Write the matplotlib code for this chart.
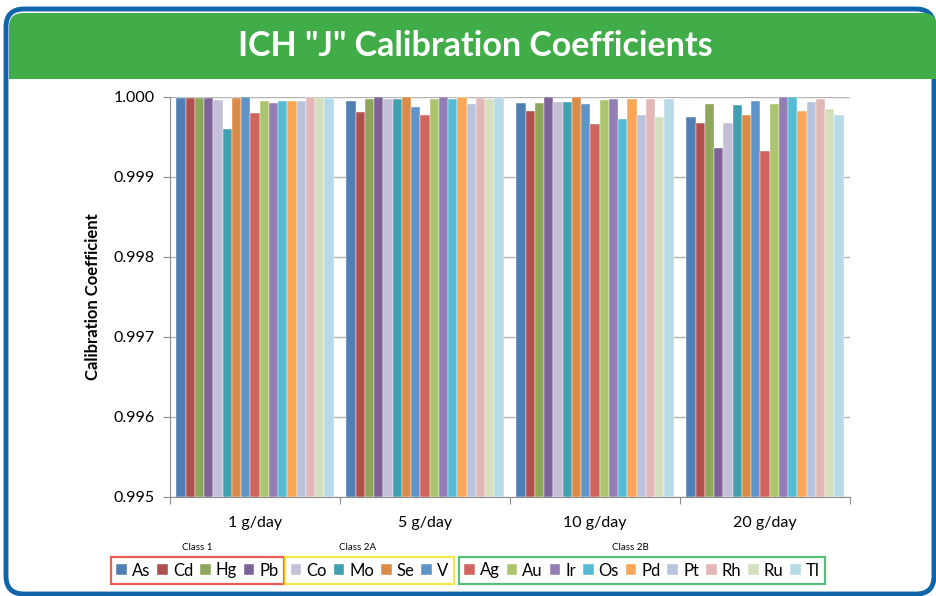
import matplotlib
matplotlib.use("Agg")
import matplotlib.pyplot as plt
import numpy as np
from matplotlib.patches import FancyBboxPatch, Rectangle
from matplotlib.transforms import IdentityTransform

plt.rcParams['font.family'] = ['Lato', 'DejaVu Sans']

groups = ["1 g/day", "5 g/day", "10 g/day", "20 g/day"]
elements = ["As", "Cd", "Hg", "Pb", "Co", "Mo", "Se", "V",
            "Ag", "Au", "Ir", "Os", "Pd", "Pt", "Rh", "Ru", "Tl"]
As = [0.99999, 0.99995, 0.99993, 0.99975]
Cd = [0.99999, 0.99981, 0.99982, 0.99968]
Hg = [0.99999, 0.99998, 0.99993, 0.99991]
Pb = [0.99999, 1.00000, 1.00000, 0.99936]
Co = [0.99996, 0.99998, 0.99994, 0.99968]
Mo = [0.99960, 0.99998, 0.99994, 0.99990]
Se = [0.99999, 1.00000, 1.00000, 0.99977]
V = [1.00000, 0.99988, 0.99991, 0.99995]
Ag = [0.99980, 0.99977, 0.99966, 0.99933]
Au = [0.99995, 0.99998, 0.99996, 0.99991]
Ir = [0.99993, 1.00000, 0.99997, 1.00000]
Os = [0.99995, 0.99998, 0.99972, 1.00000]
Pd = [0.99995, 1.00000, 0.99998, 0.99982]
Pt = [0.99995, 0.99991, 0.99977, 0.99994]
Rh = [1.00000, 0.99999, 0.99997, 0.99998]
Ru = [0.99999, 0.99997, 0.99975, 0.99985]
Tl = [0.99999, 0.99999, 0.99998, 0.99977]
series = [As, Cd, Hg, Pb, Co, Mo, Se, V, Ag, Au, Ir, Os, Pd, Pt, Rh, Ru, Tl]
colors = ["#4F7FB3", "#B0504C", "#8EA65A", "#7E6398", "#C5BED7", "#3FA0B2",
          "#DA8B47", "#5F94CA", "#D0645F", "#AAC56D", "#947CB4", "#55BAD3",
          "#F9A657", "#B8C4DF", "#E2B8B7", "#D4DFBB", "#B6DAE6"]
class_names = ["Class 1", "Class 2A", "Class 2B"]
class_sizes = [4, 4, 9]
class_colors = ["#E8322B", "#F2E41C", "#2BAE5A"]

W, H = 937, 596
fig = plt.figure(figsize=(W / 100, H / 100), dpi=100)
fig.patch.set_facecolor("white")

border = FancyBboxPatch((6, H - 594), 928, 585,
                        boxstyle="round,pad=0,rounding_size=18",
                        facecolor="white", edgecolor="#1064A8", linewidth=3.5,
                        transform=IdentityTransform(), zorder=0)
fig.patches.append(border)
header = FancyBboxPatch((9, H - 79), 928, 66,
                        boxstyle="round,pad=0,rounding_size=14",
                        facecolor="#41AD49", edgecolor="none",
                        transform=IdentityTransform(), zorder=1)
fig.patches.append(header)
fig.patches.append(Rectangle((9, H - 79), 928, 30, facecolor="#41AD49",
                             edgecolor="none", transform=IdentityTransform(), zorder=1))
fig.text(475 / W, 1 - 46 / H, 'ICH "J" Calibration Coefficients', color="white",
         fontsize=24.5, fontweight="bold", ha="center", va="center", zorder=3)

ax = fig.add_axes([170 / W, 1 - 497 / H, 680 / W, 400 / H])
ax.set_zorder(5)
ax.patch.set_alpha(0)
ymin, ymax = 0.995, 1.000
n = len(series)
bw = 0.924 / n
x = np.arange(len(groups))
for i, (vals, c, name) in enumerate(zip(series, colors, elements)):
    pos = x - 0.462 + bw * (i + 0.5)
    ax.bar(pos, np.array(vals) - ymin, bottom=ymin, width=bw, color=c,
           edgecolor="#FFFFFF", linewidth=0.3, label=name, zorder=3)

ax.set_xlim(-0.5, len(groups) - 0.5)
ax.set_ylim(ymin, ymax)
ticks = np.arange(0.995, 1.0005, 0.001)
ax.set_yticks(ticks)
ax.set_yticklabels([f"{v:.3f}" for v in ticks], fontsize=11.5)
ax.yaxis.grid(True, color="#B4B4B4", linewidth=1, zorder=0)
ax.set_axisbelow(True)
ax.set_xticks(np.arange(-0.5, len(groups)), minor=False)
ax.set_xticklabels([])
ax.set_xticks(x, minor=True)
ax.set_xticklabels(groups, minor=True, fontsize=11.5)
ax.tick_params(axis="x", which="minor", length=0, pad=14)
ax.tick_params(axis="x", which="major", length=5, color="#8C8C8C")
ax.tick_params(axis="y", length=5, color="#8C8C8C", pad=6)
for s in ["top", "right"]:
    ax.spines[s].set_visible(False)
for s in ["left", "bottom"]:
    ax.spines[s].set_color("#8C8C8C")
ax.set_ylabel("Calibration Coefficient", fontsize=12, fontweight="bold", labelpad=9)

handles, labels = ax.get_legend_handles_labels()
centers = [197.5 / W, 369.5 / W, 642 / W]
label_x = [197 / W, 358 / W, 630 / W]
start = 0
for name, size, ec, cx, lx in zip(class_names, class_sizes, class_colors, centers, label_x):
    leg = fig.legend(handles[start:start + size], labels[start:start + size],
                     loc="center", bbox_to_anchor=(cx, 1 - 570.5 / H), ncol=size,
                     frameon=True, fancybox=False, fontsize=12,
                     handlelength=0.65, handleheight=0.65, handletextpad=0.3,
                     columnspacing=0.4, borderpad=0.32, borderaxespad=0)
    leg.set_zorder(6)
    leg.get_frame().set_edgecolor(ec)
    leg.get_frame().set_linewidth(1.6)
    fig.text(lx, 1 - 548 / H, name, fontsize=7, ha="center", va="center", zorder=6)
    start += size

fig.savefig("out.png", dpi=100, facecolor="white")
